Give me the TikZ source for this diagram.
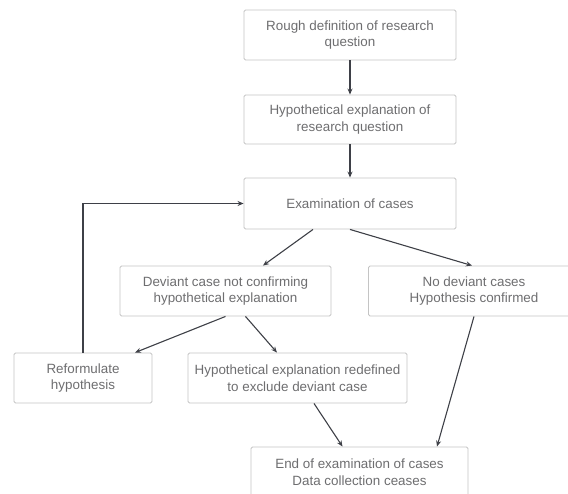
\documentclass[tikz,border=0pt]{standalone}
\usepackage{fontspec}
\setmainfont{Liberation Sans}
\usetikzlibrary{calc,arrows.meta}
\definecolor{boxline}{HTML}{C4C4C4}
\definecolor{boxtext}{HTML}{6E6E70}
\definecolor{arrowcol}{HTML}{3E4047}
\begin{document}
\begin{tikzpicture}[x=1pt,y=-1pt,
  box/.style={draw=boxline, line width=0.9pt, rounded corners=1.5pt, fill=white,
    text=boxtext, align=center, inner sep=0pt,
    font=\fontsize{13.4}{16.5}\selectfont},
  conn/.style={draw=arrowcol, line width=1.1pt, -{Stealth[length=6pt,width=5pt]}}]
\useasboundingbox (0,0) rectangle (568,493);
\node[box, minimum width=212pt, minimum height=50pt] (b1) at (350,35) {Rough definition of research\\question};
\node[box, minimum width=212pt, minimum height=49pt] (b2) at (350,119.5) {Hypothetical explanation of\\research question};
\node[box, minimum width=212pt, minimum height=51pt] (b3) at (350,203.5) {Examination of cases};
\node[box, minimum width=211pt, minimum height=50pt] (b4) at (225.5,291) {Deviant case not confirming\\hypothetical explanation};
\node[box, minimum width=211pt, minimum height=50pt] (b5) at (474,291) {No deviant cases\\Hypothesis confirmed};
\node[box, minimum width=138pt, minimum height=50pt] (b6) at (83,378) {Reformulate\\hypothesis};
\node[box, minimum width=219pt, minimum height=50pt] (b7) at (297.5,378) {Hypothetical explanation redefined\\to exclude deviant case};
\node[box, minimum width=217pt, minimum height=50pt] (b8) at (359.5,472) {End of examination of cases\\Data collection ceases};
\draw[conn] (b1.south) -- (b2.north);
\draw[conn] (b2.south) -- (b3.north);
\draw[conn] ($(b3.south)+(-37,0)$) -- ($(b4.north)+(37.5,0)$);
\draw[conn] (b3.south) -- ($(b5.north)+(-2,0)$);
\draw[conn] (b4.south) -- ($(b6.north)+(52,0)$);
\draw[conn] ($(b4.south)+(20,0)$) -- ($(b7.north)+(-20.5,0)$);
\draw[conn] ($(b7.south)+(16.5,0)$) -- ($(b8.north)+(-17,0)$);
\draw[conn] (b5.south) -- ($(b8.north)+(77.5,0)$);
\draw[conn] (b6.north) |- (b3.west);
\end{tikzpicture}
\end{document}
